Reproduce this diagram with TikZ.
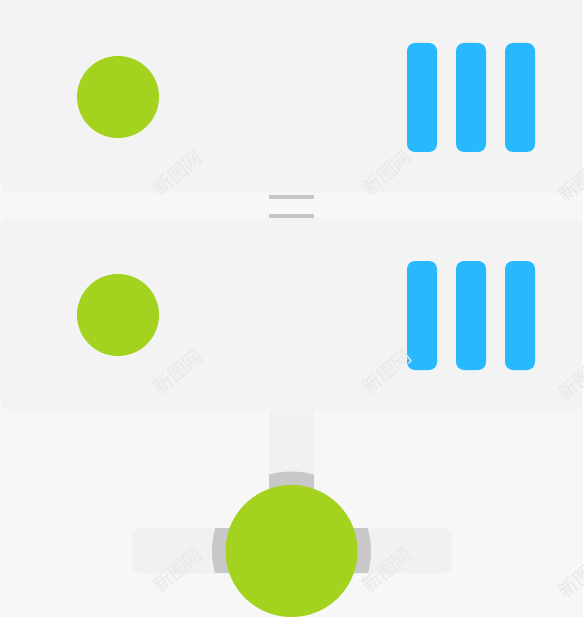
\documentclass[tikz,border=0pt]{standalone}
\usepackage{fontspec}
\newfontfamily\cjk{Noto Sans CJK SC}
\definecolor{bgc}{HTML}{F7F7F7}
\definecolor{panelc}{HTML}{F3F3F3}
\definecolor{barc}{HTML}{F1F1F1}
\definecolor{ringc}{HTML}{C8C8C8}
\definecolor{greenc}{HTML}{A4D31F}
\definecolor{bluec}{HTML}{27B8FE}
\definecolor{eqc}{HTML}{C6C6C6}
\tikzset{
  panel/.style={fill=panelc, rounded corners=6pt},
  dot/.style={circle, fill=greenc, inner sep=0pt, minimum size=82pt},
  bigdot/.style={circle, fill=greenc, inner sep=0pt, minimum size=132pt},
  pill/.style={fill=bluec, rounded corners=8pt, inner sep=0pt, minimum width=30pt, minimum height=109pt},
  eqline/.style={fill=eqc, inner sep=0pt, minimum width=45pt, minimum height=4pt},
  wm/.style={font=\cjk\fontsize{19}{19}\selectfont, text=black!9, rotate=40, inner sep=0pt}
}
\begin{document}
\begin{tikzpicture}[x=1pt,y=-1pt]
\useasboundingbox (0,0) rectangle (583,617);
\fill[bgc] (0,0) rectangle (583,617);
% panels
\fill[panel] (1,-10) rectangle (582,193);
\fill[panel] (1,218) rectangle (582,410);
% equal sign
\node[eqline] (eq1) at (291.5,197) {};
\node[eqline] (eq2) at (291.5,216) {};
% top panel content
\node[dot] (c1) at (118,97) {};
\node[pill] (b1) at (422,97.5) {};
\node[pill] (b2) at (471,97.5) {};
\node[pill] (b3) at (520,97.5) {};
% second panel content
\node[dot] (c2) at (118,315) {};
\node[pill] (b4) at (422,315.5) {};
\node[pill] (b5) at (471,315.5) {};
\node[pill] (b6) at (520,315.5) {};
% cross bars
\fill[barc] (269,410) rectangle (314,530);
\fill[barc, rounded corners=8pt] (132,528) rectangle (452,573);
% grey ring parts
\begin{scope}
  \clip (269,410) rectangle (314,530) (132,528) rectangle (452,573);
  \fill[ringc] (291.5,551) circle (79.5);
\end{scope}
\node[bigdot] (c3) at (291.5,551) {};
% watermarks
\foreach \x/\y in {178/173,387/173,583/180,178/372,387/372,583/378,178/570,387/570,583/576}{
  \node[wm] at (\x,\y) {新图网};
}
\end{tikzpicture}
\end{document}
